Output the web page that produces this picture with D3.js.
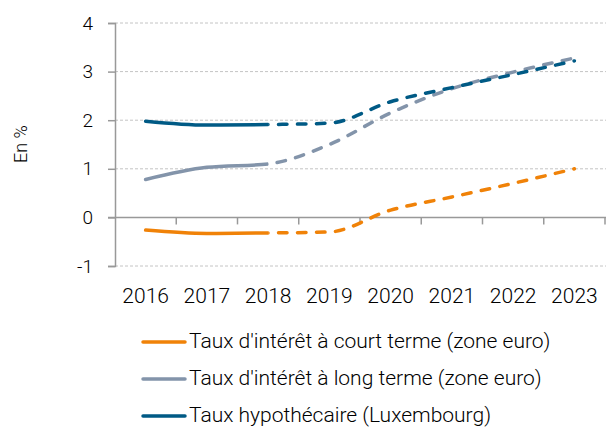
<!DOCTYPE html>
<html>
<head>
<meta charset="utf-8">
<script src="https://cdn.jsdelivr.net/npm/d3@7"></script>
<style>
  body { margin: 0; background: #fff; }
  text { font-family: Roboto, "DejaVu Sans", sans-serif; font-weight: 300; fill: #000; }
</style>
</head>
<body>
<div id="chart"></div>
<script>
var years = ["2016", "2017", "2018", "2019", "2020", "2021", "2022", "2023"];
var courtTerme = [-0.26, -0.33, -0.32, -0.30, 0.15, 0.42, 0.70, 1.00];
var longTerme = [0.78, 1.03, 1.10, 1.50, 2.15, 2.65, 2.99, 3.28];
var hypothecaire = [1.98, 1.90, 1.91, 1.94, 2.38, 2.67, 2.94, 3.22];
var yTicks = [-1, 0, 1, 2, 3, 4];
var lastSolid = "2018";

var series = [
  { name: "Taux d'intérêt à court terme (zone euro)", values: courtTerme, color: "#f08208" },
  { name: "Taux d'intérêt à long terme (zone euro)", values: longTerme, color: "#8394aa" },
  { name: "Taux hypothécaire (Luxembourg)", values: hypothecaire, color: "#005a85" }
];

var width = 606,
  height = 427;

var svg = d3.select("#chart")
  .append("svg")
  .attr("width", width)
  .attr("height", height);

var x = d3.scaleBand()
  .domain(years)
  .range([115, 605]);

var y = d3.scaleLinear()
  .domain([-1, 4])
  .range([266, 23]);

// gridlines (dashed), except zero which is the x axis
svg.append("g")
  .selectAll("line")
  .data(yTicks.filter(function(d) { return d !== 0; }))
  .enter().append("line")
  .attr("x1", 115)
  .attr("x2", 606)
  .attr("y1", function(d) { return y(d); })
  .attr("y2", function(d) { return y(d); })
  .attr("stroke", "#c4c4c4")
  .attr("stroke-width", 1)
  .attr("stroke-dasharray", "3,2");

// y axis
var yAxis = svg.append("g")
  .attr("transform", "translate(115,0)")
  .call(d3.axisLeft(y).tickValues(yTicks).tickSize(7).tickPadding(15)
    .tickFormat(function(d) { return String(d); }));
yAxis.select(".domain").attr("stroke", "#999").attr("stroke-width", 1.5);
yAxis.selectAll(".tick line").attr("stroke", "#999").attr("stroke-width", 1.5);
yAxis.selectAll(".tick text")
  .style("font-size", "19px")
  .style("font-family", "Roboto, sans-serif")
  .style("font-weight", 300)
  .attr("fill", "#000");

// x axis at zero
svg.append("line")
  .attr("x1", 108)
  .attr("x2", 606)
  .attr("y1", y(0))
  .attr("y2", y(0))
  .attr("stroke", "#999")
  .attr("stroke-width", 1.5);

svg.append("g")
  .selectAll("line")
  .data(years.slice(1).concat(["end"]))
  .enter().append("line")
  .attr("x1", function(d) { return d === "end" ? x.range()[1] : x(d); })
  .attr("x2", function(d) { return d === "end" ? x.range()[1] : x(d); })
  .attr("y1", y(0))
  .attr("y2", y(0) + 7)
  .attr("stroke", "#999")
  .attr("stroke-width", 1.5);

svg.append("g")
  .selectAll("text")
  .data(years)
  .enter().append("text")
  .attr("x", function(d) { return x(d) + x.bandwidth() / 2; })
  .attr("y", 303)
  .attr("text-anchor", "middle")
  .style("font-size", "21px")
  .text(function(d) { return d; });

// y label
svg.append("text")
  .attr("transform", "translate(27,144) rotate(-90)")
  .attr("text-anchor", "middle")
  .style("font-size", "18px")
  .text("En %");

// clip regions: solid up to lastSolid, dashed after
var xSplit = x(lastSolid) + x.bandwidth() / 2;
var defs = svg.append("defs");
defs.append("clipPath").attr("id", "clipSolid")
  .append("rect").attr("x", 0).attr("y", 0).attr("width", xSplit).attr("height", height);
defs.append("clipPath").attr("id", "clipDash")
  .append("rect").attr("x", xSplit).attr("y", 0).attr("width", width - xSplit).attr("height", height);

var line = d3.line()
  .x(function(d, i) { return x(years[i]) + x.bandwidth() / 2; })
  .y(function(d) { return y(d); })
  .curve(d3.curveMonotoneX);

var g = svg.selectAll(".serie")
  .data(series)
  .enter().append("g")
  .attr("class", "serie");

g.append("path")
  .attr("d", function(d) { return line(d.values); })
  .attr("clip-path", "url(#clipSolid)")
  .attr("fill", "none")
  .attr("stroke", function(d) { return d.color; })
  .attr("stroke-width", 3.5)
  .attr("stroke-linecap", "round");

g.append("path")
  .attr("d", function(d) { return line(d.values); })
  .attr("clip-path", "url(#clipDash)")
  .attr("fill", "none")
  .attr("stroke", function(d) { return d.color; })
  .attr("stroke-width", 3.5)
  .attr("stroke-linecap", "round")
  .attr("stroke-dasharray", "8.5,10.5");

// legend
var legend = svg.selectAll(".legend")
  .data(series)
  .enter().append("g")
  .attr("class", "legend")
  .attr("transform", function(d, i) { return "translate(0," + (342 + i * 37) + ")"; });

legend.append("line")
  .attr("x1", 143)
  .attr("x2", 185)
  .attr("stroke", function(d) { return d.color; })
  .attr("stroke-width", 3.5)
  .attr("stroke-linecap", "round");

legend.append("text")
  .attr("x", 189)
  .attr("y", 5)
  .attr("dy", "0.05em")
  .style("font-size", "21px")
  .text(function(d) { return d.name; });
</script>
</body>
</html>
